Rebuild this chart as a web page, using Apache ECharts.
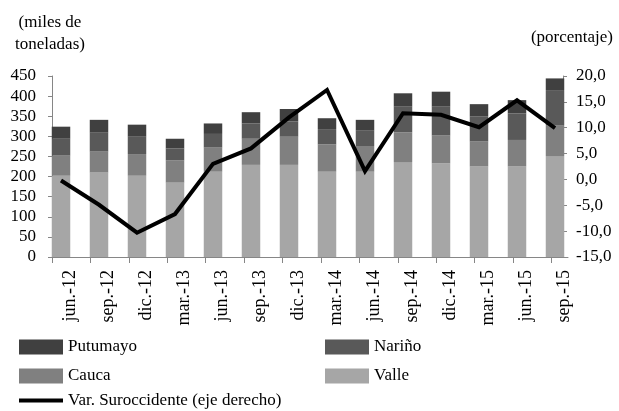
<!DOCTYPE html>
<html>
<head>
<meta charset="utf-8">
<script src="https://cdn.jsdelivr.net/npm/echarts@6/dist/echarts.min.js"></script>
<style>html,body{margin:0;padding:0;background:#fff}#c{width:619px;height:411px}</style>
</head>
<body>
<div id="c"></div>
<script>
const categories = ['jun.-12','sep.-12','dic.-12','mar.-13','jun.-13','sep.-13','dic.-13','mar.-14','jun.-14','sep.-14','dic.-14','mar.-15','jun.-15','sep.-15'];
const valle    = [202, 210, 202, 185, 212, 229, 229, 212, 212, 236, 233, 225, 225, 251];
const cauca    = [50, 52, 54, 55, 60, 65, 70, 68, 64, 74, 69, 62, 66, 77];
const narino   = [42, 47, 43, 30, 34, 38, 38, 38, 38, 65, 73, 62, 66, 87];
const putumayo = [30, 32, 30, 24, 26, 28, 31, 27, 27, 32, 36, 31, 33, 29];
const varSuroccidente = [-0.2, -4.9, -10.3, -6.7, 3.0, 6.0, 12.0, 17.3, 1.6, 12.8, 12.5, 10.1, 15.3, 9.9];
const leftTicks = {min: 0, max: 450, interval: 50};
const rightTicks = {min: -15, max: 20, interval: 5};

const FONT = 'Liberation Serif';
const txt = {fontFamily: FONT, fontSize: 17, color: '#000'};
const axisGray = '#868686';

const chart = echarts.init(document.getElementById('c'), null, {renderer: 'canvas'});
const barBase = {type: 'bar', stack: 'total', barWidth: 18.5, clip: false, xAxisIndex: 0, yAxisIndex: 0};

chart.setOption({
  animation: false,
  backgroundColor: '#fff',
  title: [
    {text: '(miles de\ntoneladas)', left: 45, top: 7, textAlign: 'center',
     textStyle: {fontFamily: FONT, fontSize: 17, fontWeight: 'normal', color: '#000', lineHeight: 22}},
    {text: '(porcentaje)', right: 1, top: 24,
     textStyle: {fontFamily: FONT, fontSize: 17, fontWeight: 'normal', color: '#000'}}
  ],
  grid: [
    {left: 61, right: 64, top: 76, bottom: 154, containLabel: false},
    {left: 52, right: 51, top: 76, bottom: 154, containLabel: false}
  ],
  legend: [
    {data: ['Putumayo'], left: 19, top: 338.5, itemWidth: 44, itemHeight: 15, itemGap: 4, itemTextGap: 4, textStyle: txt, icon: 'rect', padding: 0},
    {data: ['Nariño'], left: 325, top: 338.5, itemWidth: 44, itemHeight: 15, itemGap: 4, itemTextGap: 3, textStyle: txt, icon: 'rect', padding: 0},
    {data: ['Cauca'], left: 19, top: 367.5, itemWidth: 44, itemHeight: 15, itemGap: 4, itemTextGap: 4, textStyle: txt, icon: 'rect', padding: 0},
    {data: ['Valle'], left: 325, top: 367.5, itemWidth: 44, itemHeight: 15, itemGap: 4, itemTextGap: 3, textStyle: txt, icon: 'rect', padding: 0},
    {data: ['Var. Suroccidente (eje derecho)'], left: 19, top: 392, itemWidth: 44, itemHeight: 4, itemTextGap: 4, textStyle: txt, icon: 'rect', padding: 0}
  ],
  xAxis: [
    {type: 'category', gridIndex: 0, data: categories, boundaryGap: false,
     axisLine: {show: false}, axisTick: {show: false}, splitLine: {show: false},
     axisLabel: Object.assign({}, txt, {rotate: 90, margin: 13, interval: 0, verticalAlign: 'top', fontSize: 18})},
    {type: 'value', gridIndex: 1, min: 0, max: 13.43, interval: 1, position: 'bottom',
     axisLine: {show: true, onZero: false, lineStyle: {color: axisGray, width: 1}},
     axisTick: {show: true, length: 6, inside: false, lineStyle: {color: axisGray}, customValues: categories.map((_, i) => i)},
     axisLabel: {show: false}, splitLine: {show: false}}
  ],
  yAxis: [
    {type: 'value', gridIndex: 0, position: 'left', offset: 9, min: leftTicks.min, max: leftTicks.max, interval: leftTicks.interval,
     axisLine: {show: true, lineStyle: {color: axisGray, width: 1}},
     axisTick: {show: true, length: 4, lineStyle: {color: axisGray}},
     splitLine: {show: false},
     axisLabel: Object.assign({margin: 16}, txt)},
    {type: 'value', gridIndex: 0, position: 'right', offset: 8, min: rightTicks.min, max: rightTicks.max, interval: rightTicks.interval,
     axisLine: {show: true, lineStyle: {color: axisGray, width: 1}},
     axisTick: {show: true, length: 4, lineStyle: {color: axisGray}},
     splitLine: {show: false},
     axisLabel: Object.assign({margin: 13, formatter: v => v.toFixed(1).replace('.', ',')}, txt)},
    {type: 'value', gridIndex: 1, show: false, min: 0, max: 1, splitLine: {show: false}}
  ],
  series: [
    Object.assign({name: 'Valle', data: valle, itemStyle: {color: '#a6a6a6'}}, barBase),
    Object.assign({name: 'Cauca', data: cauca, itemStyle: {color: '#808080'}}, barBase),
    Object.assign({name: 'Nariño', data: narino, itemStyle: {color: '#595959'}}, barBase),
    Object.assign({name: 'Putumayo', data: putumayo, itemStyle: {color: '#404040'}}, barBase),
    {name: 'Var. Suroccidente (eje derecho)', type: 'line', xAxisIndex: 0, yAxisIndex: 1, data: varSuroccidente,
     symbol: 'none', z: 5, lineStyle: {color: '#000', width: 4, join: 'miter'}, itemStyle: {color: '#000'}}
  ]
});
</script>
</body>
</html>
